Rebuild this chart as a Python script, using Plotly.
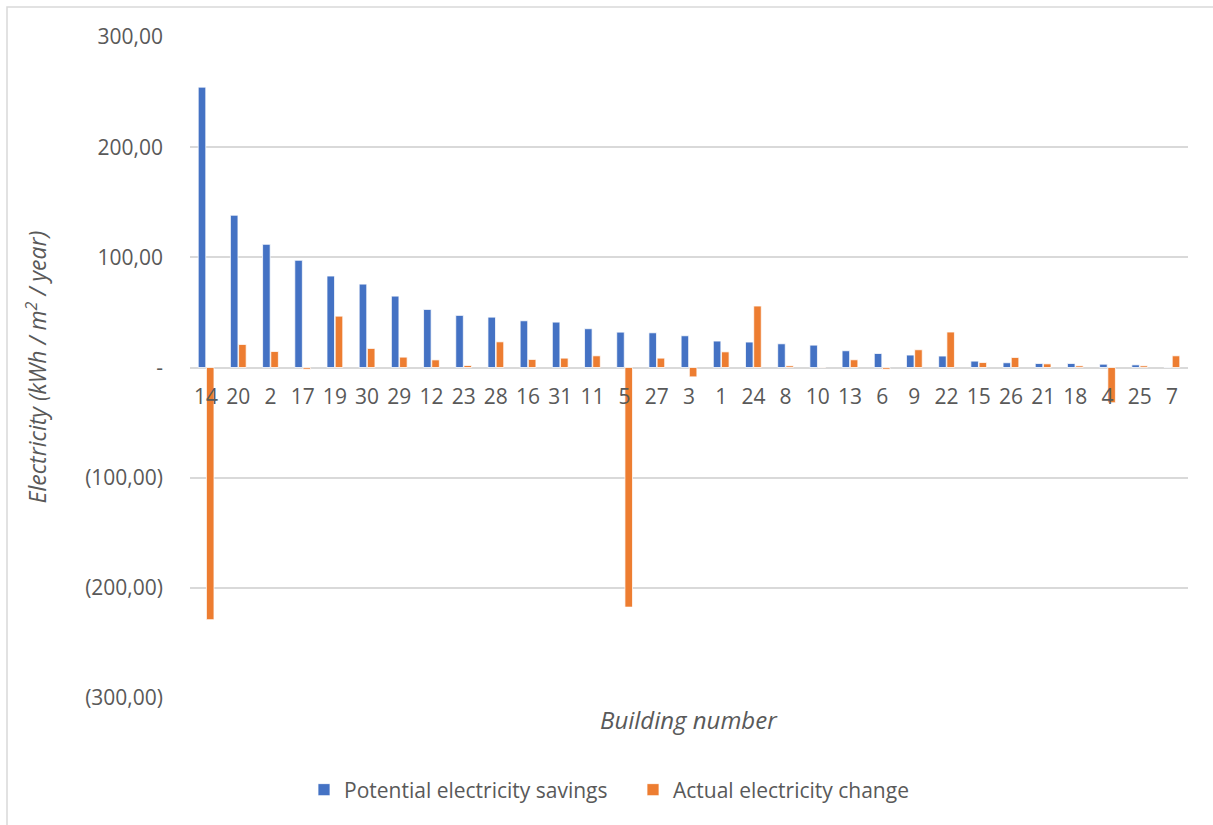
import plotly.graph_objects as go

# Buildings ordered by potential savings (descending)
buildings = ["14", "20", "2", "17", "19", "30", "29", "12", "23", "28", "16", "31",
             "11", "5", "27", "3", "1", "24", "8", "10", "13", "6", "9", "22",
             "15", "26", "21", "18", "4", "25", "7"]

# kWh / m2 / year
potential_savings = [254.5, 138.2, 111.8, 97.3, 83.0, 75.7, 64.8, 52.7, 47.3, 45.7,
                     42.4, 41.2, 35.2, 32.1, 31.5, 28.8, 24.0, 23.1, 21.5, 20.3,
                     15.2, 12.7, 11.3, 10.4, 5.8, 4.3, 3.6, 3.6, 3.0, 2.4, 0.3]
actual_change = [-228.9, 20.9, 14.5, -1.5, 46.6, 17.3, 9.4, 6.9, 1.8, 23.3,
                 7.3, 8.5, 10.6, -217.5, 8.5, -8.5, 14.2, 55.8, 1.5, 0.3,
                 7.0, -1.5, 16.1, 32.2, 4.5, 9.1, 3.3, 1.5, -32.0, 1.5, 10.6]

y_tickvals = [300, 200, 100, 0, -100, -200, -300]
y_ticktext = ["300,00", "200,00", "100,00", "-", "(100,00)", "(200,00)", "(300,00)"]

BLUE = "#4472C4"
ORANGE = "#ED7D31"
GRID = "#D9D9D9"
TEXT = "#595959"
FONT = "Open Sans"

W, H = 1213, 825
L, R, T, B = 190, 25, 37, 127
pw, ph = W - L - R, H - T - B


def px_x(x):
    return (x - L) / pw


def px_y(y):
    return (H - B - y) / ph


fig = go.Figure()
fig.add_trace(go.Bar(
    x=buildings, y=potential_savings, name="Potential electricity savings",
    marker=dict(color=BLUE, line=dict(color="white", width=0.75)),
))
fig.add_trace(go.Bar(
    x=buildings, y=actual_change, name="Actual electricity change",
    marker=dict(color=ORANGE, line=dict(color="white", width=0.75)),
))

fig.update_layout(
    width=W, height=H,
    margin=dict(l=L, r=R, t=T, b=B, autoexpand=False),
    paper_bgcolor="white", plot_bgcolor="white",
    barmode="group", bargap=0.49, bargroupgap=0.08,
    font=dict(family=FONT, color=TEXT, size=20),
    showlegend=True,
    legend=dict(orientation="h", x=px_x(304), xanchor="left",
                y=px_y(790), yanchor="middle",
                entrywidth=284, entrywidthmode="pixels",
                font=dict(size=21, color=TEXT, family=FONT),
                itemclick=False, bgcolor="rgba(0,0,0,0)"),
    xaxis=dict(type="category", anchor="free", position=0.5,
               showline=False, showgrid=False, ticks="",
               tickfont=dict(size=21, color=TEXT),
               ticklabelstandoff=14),
    yaxis=dict(range=[-300, 300], tickvals=y_tickvals, ticktext=y_ticktext,
               showgrid=True, gridcolor=GRID, gridwidth=1.5,
               zeroline=True, zerolinecolor=GRID, zerolinewidth=1.8,
               showline=False, ticks="", ticklabelstandoff=26,
               tickfont=dict(size=21, color=TEXT)),
    shapes=[dict(type="rect", xref="paper", yref="paper",
                 x0=px_x(7), x1=px_x(1240), y0=px_y(7), y1=px_y(850),
                 line=dict(color=GRID, width=1.5), fillcolor="rgba(0,0,0,0)",
                 layer="below")],
    annotations=[
        dict(text="Building number", xref="paper", yref="paper",
             x=0.5, y=px_y(719), xanchor="center", yanchor="middle",
             showarrow=False, font=dict(size=24, color=TEXT, family=FONT, style="italic")),
        dict(text="Electricity (kWh / m<sup>2</sup> / year)", xref="paper", yref="paper",
             x=px_x(36), y=0.5, xanchor="center", yanchor="middle", textangle=-90,
             showarrow=False, font=dict(size=23, color=TEXT, family=FONT, style="italic")),
    ],
)

fig.write_html("out.html")
